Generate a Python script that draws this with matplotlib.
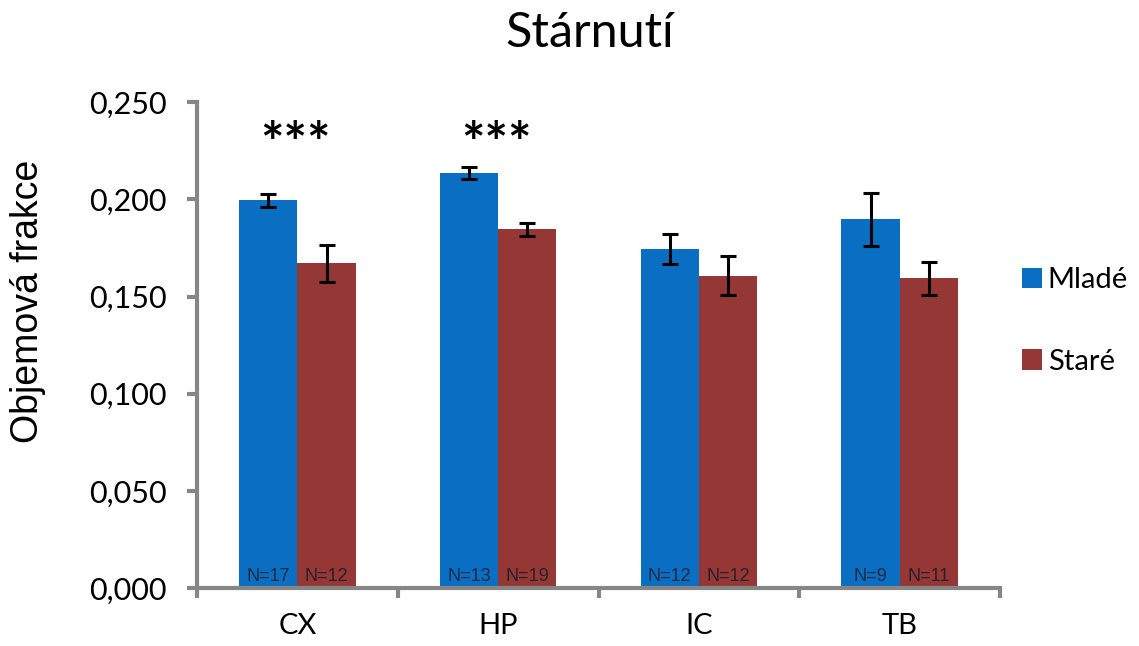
import numpy as np
import matplotlib.pyplot as plt
from matplotlib.ticker import FuncFormatter

categories = ['CX', 'HP', 'IC', 'TB']
mlade = [0.1996, 0.2135, 0.1744, 0.1897]
mlade_err = [0.0033, 0.0030, 0.0077, 0.0135]
stare = [0.1670, 0.1845, 0.1607, 0.1593]
stare_err = [0.0096, 0.0034, 0.0100, 0.0083]
n_mlade = ['N=17', 'N=13', 'N=12', 'N=9']
n_stare = ['N=12', 'N=19', 'N=12', 'N=11']
stars = ['***', '***', '', '']

blue = '#0a6fc2'
red = '#953735'
grey = '#868686'
calibri = ['Lato', 'DejaVu Sans']

fig = plt.figure(figsize=(11.39, 6.46), dpi=100)
ax = fig.add_axes([0.173, 0.0898, 0.705, 0.752])

x = np.arange(len(categories))
w = 0.29
ax.bar(x - w / 2, mlade, w, color=blue, label='Mladé')
ax.bar(x + w / 2, stare, w, color=red, label='Staré')
ax.errorbar(x - w / 2, mlade, yerr=mlade_err, fmt='none', ecolor='black',
            elinewidth=2.2, capsize=5.8, capthick=2.2)
ax.errorbar(x + w / 2, stare, yerr=stare_err, fmt='none', ecolor='black',
            elinewidth=2.2, capsize=5.8, capthick=2.2)

for i in range(len(categories)):
    ax.text(x[i] - w / 2, 0.0036, n_mlade[i], ha='center', va='baseline',
            fontsize=13, family='Liberation Sans', color='#1f2a44')
    ax.text(x[i] + w / 2, 0.0036, n_stare[i], ha='center', va='baseline',
            fontsize=13, family='Liberation Sans', color='#2a1f2a')
    if stars[i]:
        ax.text(x[i] - 0.01, 0.219, stars[i], ha='center', va='baseline',
                fontsize=40, family=calibri, fontweight='bold')

ax.set_xlim(-0.5, 3.5)
ax.set_ylim(0, 0.25)
ax.set_yticks(np.arange(0, 0.2501, 0.05))
ax.yaxis.set_major_formatter(FuncFormatter(lambda v, p: f'{v:.3f}'.replace('.', ',')))
ax.set_xticks(x)
ax.set_xticklabels(categories)
ax.set_xticks(np.arange(-0.5, 3.6, 1), minor=True)
ax.tick_params(axis='x', which='major', length=0, pad=18)
ax.tick_params(axis='x', which='minor', length=7, width=3, color=grey)
ax.tick_params(axis='y', length=7, width=3, color=grey, pad=15)
for lab in ax.get_yticklabels():
    lab.set_family(calibri)
    lab.set_fontsize(22)
for lab in ax.get_xticklabels():
    lab.set_family(calibri)
    lab.set_fontsize(21)

for s in ['top', 'right']:
    ax.spines[s].set_visible(False)
for s in ['left', 'bottom']:
    ax.spines[s].set_color(grey)
    ax.spines[s].set_linewidth(3)

fig.text(28 / 1139, 0.534, 'Objemová frakce', rotation=90, ha='center', va='center',
         fontsize=27, family='Liberation Sans')
fig.text(0.518, 0.927, 'Stárnutí', ha='center', va='baseline',
         fontsize=35, family=calibri)

fig.legend(loc='center left', bbox_to_anchor=(0.897, 0.503), frameon=False,
           prop={'family': calibri, 'size': 21}, handlelength=0.69, handleheight=0.69,
           handletextpad=0.2, labelspacing=1.9, borderpad=0, borderaxespad=0)

fig.savefig('out.png', dpi=100)
